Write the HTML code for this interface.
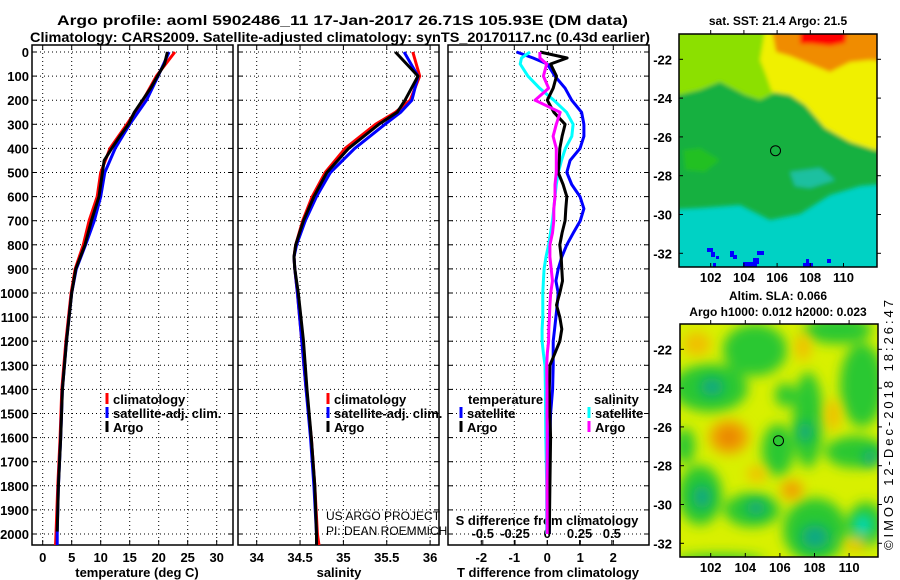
<!DOCTYPE html>
<html><head><meta charset="utf-8">
<style>
html,body{margin:0;padding:0;background:#fff;}
svg{display:block;font-family:"Liberation Sans",sans-serif;}
.b{font-weight:bold;}
</style></head>
<body>
<svg id="fig" width="900" height="580" viewBox="0 0 900 580" xmlns="http://www.w3.org/2000/svg">
<defs>
<filter id="blur1"><feGaussianBlur stdDeviation="2"/></filter>
<filter id="blur2"><feGaussianBlur stdDeviation="6"/></filter>
<clipPath id="clipM1"><rect x="679" y="34" width="198" height="233"/></clipPath>
<clipPath id="clipM2"><rect x="680" y="324" width="198" height="233"/></clipPath>
<clipPath id="clipP1"><rect x="32" y="45" width="201" height="500"/></clipPath>
<clipPath id="clipP2"><rect x="238" y="45" width="201" height="500"/></clipPath>
<clipPath id="clipP3"><rect x="448" y="45" width="201" height="500"/></clipPath>
</defs>
<g class="b" font-size="14">
<text x="57" y="25" textLength="571" lengthAdjust="spacingAndGlyphs">Argo profile: aoml 5902486_11 17-Jan-2017 26.71S 105.93E (DM data)</text>
<text x="30" y="42" textLength="620" lengthAdjust="spacingAndGlyphs">Climatology: CARS2009. Satellite-adjusted climatology: synTS_20170117.nc (0.43d earlier)</text>
</g>
<g id="plots"></g>

<g clip-path="url(#clipM1)">
<rect x="679" y="34" width="198" height="233" fill="#00d2c4"/>
<g filter="url(#blur1)">
<polygon fill="#14b040" points="660,20 900,20 900,182 860,186 830,195 800,214 770,220 740,205 700,208 660,210"/>
<polygon fill="#1ec0a0" points="790,172 820,168 835,180 810,188 795,186"/>
<polygon fill="#22c020" points="683,150 700,148 720,160 705,172 685,170"/>
<polygon fill="#8ce000" points="660,20 800,20 790,60 780,90 760,100 745,95 720,82 700,90 679,95 660,95"/>
<polygon fill="#f0f000" points="765,30 900,30 900,148 875,150 850,142 825,128 805,105 790,95 772,92 766,75 760,60"/>
<polygon fill="#f08c00" points="770,20 900,20 900,63 870,60 850,62 830,72 810,64 790,56 776,52"/>
<polygon fill="#ff0000" points="800,20 850,20 845,43 830,46 812,44 800,44"/>
</g>
<g fill="#0000ff">
<rect x="707" y="248" width="6" height="4"/><rect x="711" y="252" width="4" height="5"/><rect x="716" y="256" width="3" height="3"/>
<rect x="730" y="251" width="4" height="6"/><rect x="733" y="255" width="4" height="4"/>
<rect x="743" y="262" width="14" height="5"/><rect x="753" y="258" width="6" height="6"/><rect x="757" y="251" width="7" height="4"/>
<rect x="713" y="263" width="3" height="4"/><rect x="803" y="263" width="10" height="4"/><rect x="806" y="259" width="3" height="4"/><rect x="827" y="259" width="4" height="4"/>
</g>
<circle cx="775.5" cy="150.7" r="5" fill="none" stroke="#000" stroke-width="1"/>
</g>
<rect x="679" y="34" width="198" height="233" fill="none" stroke="#000" stroke-width="1.5"/>
<text class="b" font-size="12" text-anchor="middle" x="778" y="25">sat. SST: 21.4 Argo: 21.5</text>

<g clip-path="url(#clipM2)">
<rect x="680" y="324" width="198" height="233" fill="#d8f000"/>
<g filter="url(#blur2)" fill="#2cc832">
<ellipse cx="755" cy="350" rx="32" ry="26"/>
<ellipse cx="838" cy="330" rx="34" ry="14"/>
<ellipse cx="862" cy="385" rx="22" ry="42"/>
<ellipse cx="710" cy="388" rx="38" ry="24"/>
<ellipse cx="808" cy="420" rx="15" ry="48"/>
<ellipse cx="778" cy="450" rx="16" ry="26"/>
<ellipse cx="855" cy="452" rx="30" ry="16"/>
<ellipse cx="700" cy="495" rx="22" ry="30"/>
<ellipse cx="752" cy="510" rx="28" ry="17"/>
<ellipse cx="815" cy="530" rx="32" ry="32"/>
<ellipse cx="866" cy="524" rx="18" ry="22"/>
<ellipse cx="685" cy="446" rx="10" ry="18"/>
<ellipse cx="720" cy="560" rx="45" ry="6"/>
<ellipse cx="785" cy="395" rx="10" ry="12"/>
</g>
<g filter="url(#blur2)">
<ellipse cx="712" cy="387" rx="12" ry="9" fill="#10a884"/>
<ellipse cx="805" cy="432" rx="7" ry="10" fill="#10a884"/>
<ellipse cx="702" cy="497" rx="9" ry="12" fill="#10a884"/>
<ellipse cx="756" cy="508" rx="10" ry="7" fill="#10a884"/>
<ellipse cx="815" cy="537" rx="14" ry="12" fill="#10a884"/>
<ellipse cx="863" cy="525" rx="9" ry="10" fill="#00d8c0"/>
<ellipse cx="870" cy="458" rx="7" ry="8" fill="#10a884"/>
<ellipse cx="697" cy="344" rx="14" ry="12" fill="#f0c000"/>
<ellipse cx="803" cy="347" rx="8" ry="14" fill="#f0c000"/>
<ellipse cx="729" cy="437" rx="20" ry="17" fill="#f0a000"/>
<ellipse cx="729" cy="437" rx="9" ry="8" fill="#e88000"/>
<ellipse cx="833" cy="415" rx="8" ry="16" fill="#f0c000"/>
<ellipse cx="757" cy="474" rx="10" ry="8" fill="#f0c000"/>
<ellipse cx="792" cy="490" rx="11" ry="10" fill="#f0a000"/>
<ellipse cx="855" cy="545" rx="12" ry="6" fill="#f0c000"/>
</g>
<circle cx="778.5" cy="440.7" r="5" fill="#2cc832" stroke="#000" stroke-width="1"/>
</g>
<rect x="680" y="324" width="198" height="233" fill="none" stroke="#000" stroke-width="1.5"/>
<g class="b" font-size="12" text-anchor="middle">
<text x="778" y="300">Altim. SLA: 0.066</text>
<text x="778" y="316">Argo h1000: 0.012 h2000: 0.023</text>
</g>
<text font-size="13" textLength="250" lengthAdjust="spacing" transform="translate(893,550) rotate(-90)">©IMOS 12-Dec-2018 18:26:47</text>
<g id="mapaxes"></g>

<g font-size="12">
<text x="326" y="520">US ARGO PROJECT</text>
<text x="326" y="535">PI: DEAN ROEMMICH</text>
</g>
</svg>
<script>
// ---- data ----
const tempDepths = [0,100,200,300,400,500,600,700,800,900,1000,1200,1400,1600,1800,2000,2050];
const tempClim   = [22.8,19.6,17.3,14.5,11.6,10.0,9.4,8.0,7.0,5.6,4.9,4.0,3.3,3.0,2.6,2.3,2.2];
const tempSat    = [21.8,19.9,17.9,15.0,12.5,10.7,10.0,8.9,7.4,5.8,5.0,4.1,3.4,3.1,2.7,2.5,2.5];
const argoDepths = [0,50,100,150,200,250,300,350,400,450,500,600,700,800,900,1000,1200,1400,1600,1800,1990];
const tempArgo   = [21.5,21.0,19.8,18.6,17.2,15.8,14.8,13.3,11.9,10.6,10.3,9.7,8.4,7.3,5.7,5.0,4.1,3.4,3.1,2.7,2.5];
const salDepths  = [0,100,200,250,300,400,500,600,700,800,850,900,1000,1200,1400,1600,1800,2000,2050];
const salClim    = [35.80,35.88,35.77,35.60,35.37,35.02,34.79,34.64,34.53,34.45,34.43,34.44,34.47,34.52,34.57,34.63,34.67,34.70,34.72];
const salSat     = [35.70,35.86,35.79,35.66,35.48,35.13,34.85,34.69,34.56,34.46,34.43,34.44,34.47,34.52,34.57,34.62,34.66,34.69,34.69];
const salArgo    = [35.60,35.86,35.71,35.62,35.41,35.06,34.81,34.66,34.54,34.45,34.43,34.44,34.48,34.54,34.58,34.63,34.67,34.69,34.69];
const dDepths    = [0,25,50,100,150,200,250,300,350,400,450,500,550,600,650,700,750,800,850,900,950,1000,1050,1100,1150,1200,1250,1300,1400,1500,1600,1800,2000];
const dTsat      = [-0.93,-0.43,0,0.23,0.54,0.74,1.04,1.11,1.11,0.99,0.69,0.59,0.74,0.99,1.11,1.0,0.79,0.59,0.44,0.33,0.26,0.33,0.3,0.26,0.22,0.18,0.18,0.18,0.16,0.1,0.08,0.06,0.06];
const dTargo     = [-0.22,0.6,0.1,0.28,0.18,0,0.2,0.54,0.45,0.38,0.36,0.33,0.48,0.59,0.56,0.54,0.45,0.38,0.42,0.44,0.46,0.38,0.28,0.38,0.44,0.38,0.23,0.08,0.06,0.08,0.1,0.08,0.06];
const dSsat      = [-0.134,-0.2,-0.21,-0.15,-0.06,0.05,0.15,0.2,0.19,0.14,0.11,0.085,0.07,0.06,0.05,0.04,0.025,0.01,-0.01,-0.025,-0.03,-0.035,-0.035,-0.035,-0.04,-0.04,-0.03,-0.018,-0.015,-0.013,-0.012,-0.005,-0.005];
const dSargo     = [-0.057,-0.057,-0.005,-0.03,0.01,-0.095,0.1,0.07,0.045,0.07,0.07,0.07,0.06,0.06,0.05,0.05,0.04,0.02,0.02,0.03,0.04,0.026,0.02,0.016,0.012,0.01,0.0,-0.005,-0.002,-0.002,-0.001,-0.002,-0.001];
const depthTicks = [0,100,200,300,400,500,600,700,800,900,1000,1100,1200,1300,1400,1500,1600,1700,1800,1900,2000];
const tempTicks  = [0,5,10,15,20,25,30];
const salTicks   = [34,34.5,35,35.5,36];
const dTTicks    = [-2,-1,0,1,2];
const dSTicks    = [-0.5,-0.25,0,0.25,0.5];
const lonTicks   = [102,104,106,108,110];
const latTicks   = [-22,-24,-26,-28,-30,-32];

const yD = d => 52 + d*0.241;
const xT = t => 42.7 + t*5.8;
const xS = s => 256.7 + (s-34)*86.7;
const xdT = t => 547.3 + t*33;
const xdS = s => 547.3 + s*129;
const NS='http://www.w3.org/2000/svg';
const plots=document.getElementById('plots');
function mk(tag,attrs,parent){const e=document.createElementNS(NS,tag);for(const k in attrs)e.setAttribute(k,attrs[k]);(parent||plots).appendChild(e);return e;}
function txt(s,x,y,anchor,size,bold,parent){const e=mk('text',{x:x,y:y,'text-anchor':anchor,'font-size':size},parent);if(bold)e.setAttribute('font-weight','bold');e.textContent=s;return e;}

const panels=[{x0:32,x1:233,name:'temperature'},{x0:238,x1:439,name:'salinity'},{x0:448,x1:649,name:'difference'}];
const yTop=45,yBot=545;
panels.forEach((p,i)=>{
  const g=mk('g',{});
  
  
  depthTicks.forEach(d=>{
    const y=yD(d);
    mk('line',{x1:p.x0,x2:p.x1,y1:y,y2:y,stroke:'#000','stroke-width':1,'stroke-dasharray':'1,3'},g);
    mk('line',{x1:p.x0,x2:p.x0+5,y1:y,y2:y,stroke:'#000','stroke-width':1},g);
    mk('line',{x1:p.x1,x2:p.x1-5,y1:y,y2:y,stroke:'#000','stroke-width':1},g);
  });
  const xs = i==0?tempTicks.map(xT):i==1?salTicks.map(xS):dTTicks.map(xdT);
  xs.forEach(x=>{
    mk('line',{x1:x,x2:x,y1:yTop,y2:yBot,stroke:'#000','stroke-width':1,'stroke-dasharray':'1,3'},g);
    mk('line',{x1:x,x2:x,y1:yBot,y2:yBot-5,stroke:'#000','stroke-width':1},g);
    mk('line',{x1:x,x2:x,y1:yTop,y2:yTop+5,stroke:'#000','stroke-width':1},g);
  });
  mk('rect',{x:p.x0,y:yTop,width:p.x1-p.x0,height:yBot-yTop,fill:'none',stroke:'#000','stroke-width':1.5},g);
});
const yl=mk('g',{});


depthTicks.forEach(d=>txt(String(d),29,yD(d)+5,'end',13,true,yl));
const xl=mk('g',{});


tempTicks.forEach(t=>txt(String(t),xT(t),562,'middle',13,true,xl));
salTicks.forEach(t=>txt(String(t),xS(t),562,'middle',13,true,xl));
dTTicks.forEach(t=>txt(String(t),xdT(t),562,'middle',13,true,xl));
dSTicks.forEach(t=>{txt(String(t),xdS(t),538,'middle',13,true,xl);});
dSTicks.forEach(t=>mk('line',{x1:xdS(t),x2:xdS(t),y1:545,y2:540,stroke:'#000'},xl));
let e;
e=txt('temperature (deg C)',137,577,'middle',13,true);


e=txt('salinity',339,577,'middle',13,true);


e=txt('T difference from climatology',548,577,'middle',13,true);


e=txt('S difference from climatology',547,525,'middle',13,true);



function series(name,clip,xs,ds,fx,color){
  const pts=xs.map((v,k)=>fx(v).toFixed(1)+','+yD(ds[k]).toFixed(1)).join(' ');
  const l=mk('polyline',{points:pts,fill:'none',stroke:color,'stroke-width':3,'stroke-linejoin':'round','clip-path':'url(#'+clip+')'});
  
  
}
series('temp-climatology-line','clipP1',tempClim,tempDepths,xT,'#ff0000');
series('temp-satellite-line','clipP1',tempSat,tempDepths,xT,'#0000ff');
series('temp-argo-line','clipP1',tempArgo,argoDepths,xT,'#000000');
series('sal-climatology-line','clipP2',salClim,salDepths,xS,'#ff0000');
series('sal-satellite-line','clipP2',salSat,salDepths,xS,'#0000ff');
series('sal-argo-line','clipP2',salArgo,salDepths,xS,'#000000');
series('dT-satellite-line','clipP3',dTsat,dDepths,xdT,'#0000ff');
series('dS-satellite-line','clipP3',dSsat,dDepths,xdS,'#00ffff');
series('dT-argo-line','clipP3',dTargo,dDepths,xdT,'#000000');
series('dS-argo-line','clipP3',dSargo,dDepths,xdS,'#ff00ff');

function legend(name,x,y,color,label){
  const g=mk('g',{});
  
  
  mk('rect',{x:x-1.5,y:y-6,width:3,height:11,fill:color},g);
  txt(label,x+6,y+5,'start',13,true,g);
}
legend('legend-temp-climatology',107,399,'#ff0000','climatology');
legend('legend-temp-satellite',107,413,'#0000ff','satellite-adj. clim.');
legend('legend-temp-argo',107,427,'#000000','Argo');
legend('legend-sal-climatology',328,399,'#ff0000','climatology');
legend('legend-sal-satellite',328,413,'#0000ff','satellite-adj. clim.');
legend('legend-sal-argo',328,427,'#000000','Argo');
e=txt('temperature',468,404,'start',13,true);


e=txt('salinity',594,404,'start',13,true);


legend('legend-dT-satellite',461,413,'#0000ff','satellite');
legend('legend-dT-argo',461,427,'#000000','Argo');
legend('legend-dS-satellite',589,413,'#00ffff','satellite');
legend('legend-dS-argo',589,427,'#ff00ff','Argo');

const ma=document.getElementById('mapaxes');
[{x0:679,x1:877,y0:34,y1:267,lon0:710.7,lonk:16.6,lat0:59.3,lab:282},{x0:680,x1:878,y0:324,y1:557,lon0:710.7,lonk:17.3,lat0:349.3,lab:572}].forEach((m,i)=>{
  const g=mk('g',{},ma);
  
  
  lonTicks.forEach(l=>{const x=m.lon0+(l-102)*m.lonk;
    txt(String(l),x,m.lab,'middle',13,true,g);
    mk('line',{x1:x,x2:x,y1:m.y1,y2:m.y1-4,stroke:'#000'},g);
    mk('line',{x1:x,x2:x,y1:m.y0,y2:m.y0-4,stroke:'#000'},g);});
  latTicks.forEach(l=>{const y=m.lat0+(-22-l)*19.4;
    txt(String(l),672,y+5,'end',13,true,g);
    mk('line',{x1:m.x0,x2:m.x0+4,y1:y,y2:y,stroke:'#000'},g);
    mk('line',{x1:m.x1,x2:m.x1+4,y1:y,y2:y,stroke:'#000'},g);});
});
</script>
</body></html>
